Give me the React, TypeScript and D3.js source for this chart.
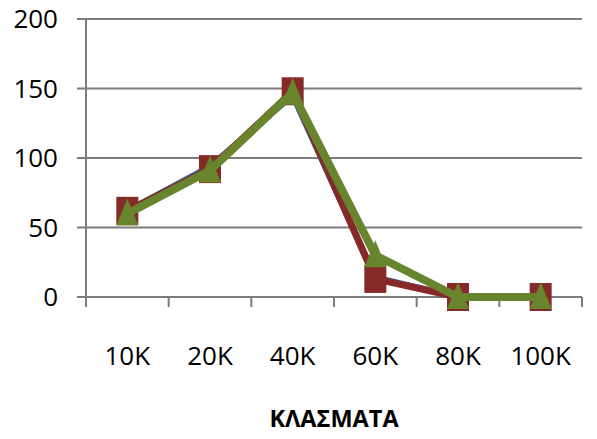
import React, { useEffect, useRef } from 'react';
import * as d3 from 'd3';

const categories = ['10K', '20K', '40K', '60K', '80K', '100K'];
const seriesBlue = [62, 94, 145, 14, 0, 0];
const seriesRed = [62, 92, 148, 13, 0, 0];
const seriesGreen = [60, 91, 147, 30, 0, 0];
const yTicks = [0, 50, 100, 150, 200];
const axisTitle = 'ΚΛΑΣΜΑΤΑ';

const App: React.FC = () => {
  const svgRef = useRef<SVGSVGElement>(null);

  useEffect(() => {
    if (!svgRef.current) return;
    const svg = d3.select(svgRef.current);
    svg.selectAll('*').remove();

    const left = 86, right = 582, top = 19, bottom = 297;
    const font = '"Open Sans", "DejaVu Sans", sans-serif';
    const gridColor = '#7c7c7c';

    const x = d3.scaleBand<string>().domain(categories).range([left, right]).padding(0);
    const y = d3.scaleLinear().domain([0, 200]).range([bottom, top]);
    const cx = (c: string) => (x(c) as number) + x.bandwidth() / 2;

    // Gridlines + y labels
    svg.append('g')
      .selectAll('line')
      .data(yTicks)
      .join('line')
      .attr('x1', left - 9)
      .attr('x2', right)
      .attr('y1', d => y(d))
      .attr('y2', d => y(d))
      .attr('stroke', gridColor)
      .attr('stroke-width', 2);

    svg.append('g')
      .selectAll('text')
      .data(yTicks)
      .join('text')
      .attr('x', 58)
      .attr('y', d => y(d))
      .attr('dy', '0.36em')
      .attr('text-anchor', 'end')
      .attr('font-family', font)
      .attr('font-size', 26)
      .attr('fill', '#000')
      .text(d => d);

    // Vertical axis
    svg.append('line')
      .attr('x1', left).attr('x2', left)
      .attr('y1', top).attr('y2', bottom + 10)
      .attr('stroke', gridColor)
      .attr('stroke-width', 2);

    // X ticks at band edges
    const edges = categories.map(c => x(c) as number).concat([right]);
    svg.append('g')
      .selectAll('line')
      .data(edges)
      .join('line')
      .attr('x1', d => d).attr('x2', d => d)
      .attr('y1', bottom).attr('y2', bottom + 10)
      .attr('stroke', gridColor)
      .attr('stroke-width', 2);

    svg.append('g')
      .selectAll('text')
      .data(categories)
      .join('text')
      .attr('x', d => cx(d))
      .attr('y', 365)
      .attr('text-anchor', 'middle')
      .attr('font-family', font)
      .attr('font-size', 26)
      .attr('fill', '#000')
      .text(d => d);

    svg.append('text')
      .attr('x', (left + right) / 2)
      .attr('y', 427)
      .attr('text-anchor', 'middle')
      .attr('font-family', font)
      .attr('font-weight', 'bold')
      .attr('font-size', 23.5)
      .attr('fill', '#000')
      .text(axisTitle);

    const line = d3.line<number>()
      .x((_, i) => cx(categories[i]))
      .y(d => y(d));

    // Blue series
    svg.append('path')
      .datum(seriesBlue)
      .attr('fill', 'none')
      .attr('stroke', '#3b64a5')
      .attr('stroke-width', 6)
      .attr('stroke-linejoin', 'round')
      .attr('d', line);

    // Red series
    svg.append('path')
      .datum(seriesRed)
      .attr('fill', 'none')
      .attr('stroke', '#862a29')
      .attr('stroke-width', 7)
      .attr('stroke-linejoin', 'round')
      .attr('d', line);

    svg.append('g')
      .selectAll('rect')
      .data(seriesRed)
      .join('rect')
      .attr('x', (_, i) => cx(categories[i]) - 11)
      .attr('y', d => y(d) - 14)
      .attr('width', 22)
      .attr('height', 28)
      .attr('fill', '#862a29');

    // Green series
    svg.append('path')
      .datum(seriesGreen)
      .attr('fill', 'none')
      .attr('stroke', '#68852e')
      .attr('stroke-width', 8)
      .attr('stroke-linejoin', 'round')
      .attr('d', line);

    svg.append('g')
      .selectAll('path')
      .data(seriesGreen)
      .join('path')
      .attr('d', (d, i) => {
        const px = cx(categories[i]);
        const py = y(d);
        const p = d3.path();
        p.moveTo(px, py - 15);
        p.lineTo(px + 11, py + 12);
        p.lineTo(px - 11, py + 12);
        p.closePath();
        return p.toString();
      })
      .attr('fill', '#68852e');
  }, []);

  return (
    <svg
      ref={svgRef}
      width={597}
      height={439}
      style={{ position: 'absolute', left: 0, top: 0, background: '#fff' }}
    />
  );
};

export default App;
